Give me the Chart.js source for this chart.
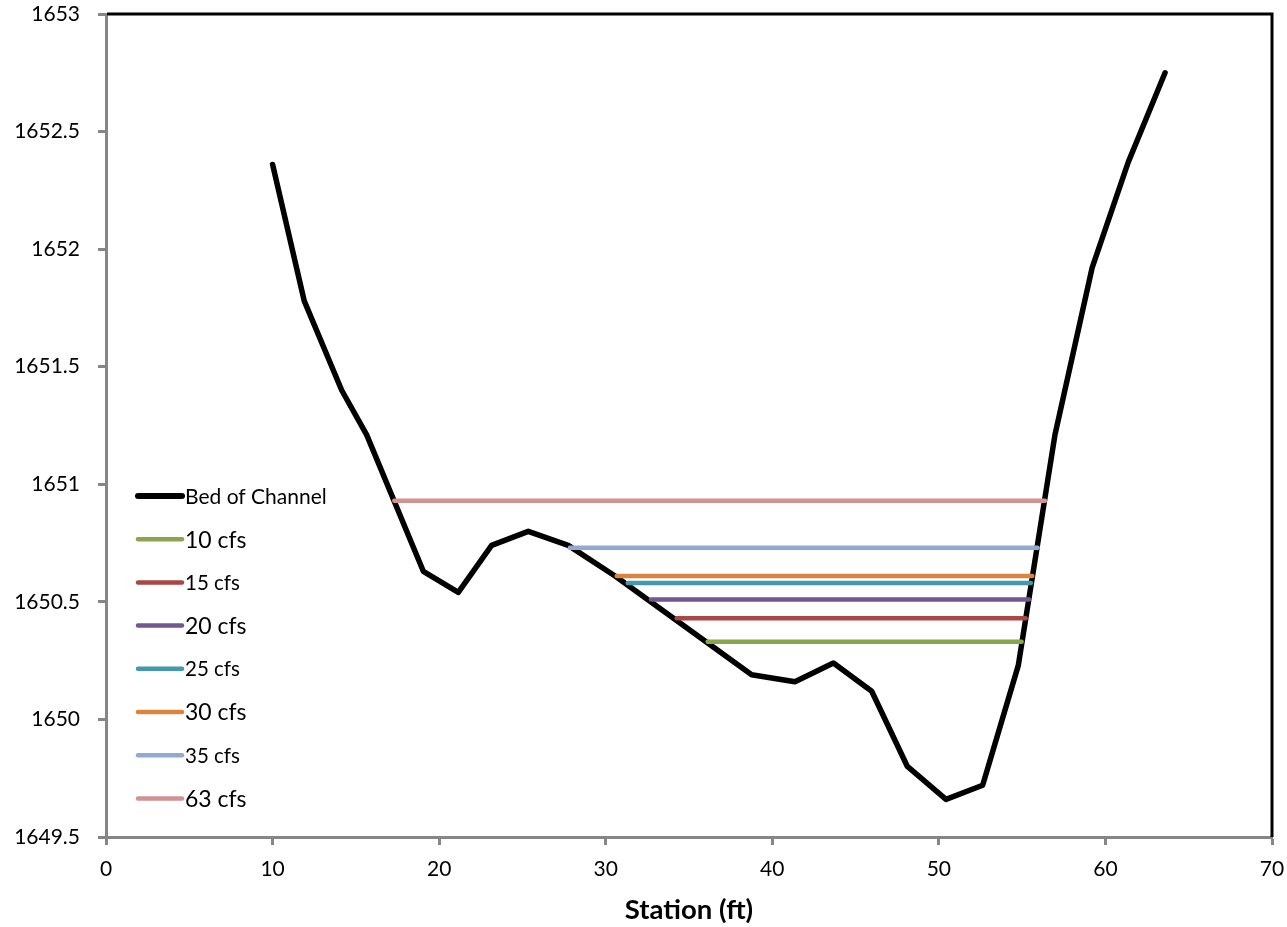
<!DOCTYPE html>
<html><head><meta charset="utf-8">
<script src="https://cdn.jsdelivr.net/npm/chart.js@4/dist/chart.umd.min.js"></script>
<style>html,body{margin:0;padding:0;background:#fff;}#wrap{width:1287px;height:927px;}</style>
</head><body><div id="wrap"><canvas id="c" width="1287" height="927"></canvas></div>
<script>
// ---- data ----
const station = [10.0, 11.9, 14.15, 15.65, 19.05, 21.15, 23.15, 25.35, 27.75, 30.56, 38.76, 41.36, 43.67, 45.97, 48.11, 50.43, 52.63, 54.77, 56.97, 59.2, 61.37, 63.58];
const bedElevation = [1652.36, 1651.78, 1651.40, 1651.21, 1650.63, 1650.54, 1650.74, 1650.80, 1650.74, 1650.61, 1650.19, 1650.16, 1650.24, 1650.12, 1649.80, 1649.66, 1649.72, 1650.23, 1651.21, 1651.92, 1652.37, 1652.75];
const bedLabel = 'Bed of Channel';
const flowLabels = ['10 cfs', '15 cfs', '20 cfs', '25 cfs', '30 cfs', '35 cfs', '63 cfs'];
const wsElevation = [1650.33, 1650.43, 1650.51, 1650.58, 1650.61, 1650.73, 1650.93];
const wsLeftStation = [36.12, 34.26, 32.72, 31.32, 30.66, 27.85, 17.31];
const wsRightStation = [54.97, 55.21, 55.41, 55.53, 55.61, 55.93, 56.37];
const xTicks = [0, 10, 20, 30, 40, 50, 60, 70];
const yTicks = [1649.5, 1650, 1650.5, 1651, 1651.5, 1652, 1652.5, 1653];
const xTitle = 'Station (ft)';

// ---- styles ----
const flowColors = ['#89A54E', '#AA4643', '#71588F', '#4198AF', '#DB843D', '#93A9CF', '#D19392'];
const FONT = 'Lato, "Open Sans", sans-serif';
const AXIS_GRAY = '#868686';

const datasets = [{
  label: bedLabel,
  data: station.map((s, i) => ({x: s, y: bedElevation[i]})),
  borderColor: '#000', backgroundColor: '#000', borderWidth: 5.5,
  pointRadius: 0, tension: 0, borderJoinStyle: 'round', borderCapStyle: 'round', order: 10
}];
flowLabels.forEach((lab, i) => {
  datasets.push({
    label: lab,
    data: [{x: wsLeftStation[i], y: wsElevation[i]}, {x: wsRightStation[i], y: wsElevation[i]}],
    borderColor: flowColors[i], backgroundColor: flowColors[i], borderWidth: 4.5,
    pointRadius: 0, tension: 0, borderCapStyle: 'round', order: 0
  });
});

const legendSizes = [21, 23, 20.5, 23, 20.5, 23, 20.5, 23];
const framePlugin = {
  id: 'frame',
  afterDraw(chart) {
    const {ctx, chartArea: a} = chart;
    ctx.save();
    ctx.strokeStyle = '#000';
    ctx.lineWidth = 3;
    ctx.beginPath();
    ctx.moveTo(a.left + 1, a.top);
    ctx.lineTo(a.right, a.top);
    ctx.lineTo(a.right, a.bottom);
    ctx.stroke();
    // legend inside plot area
    const x0 = 138, x1 = 182, y0 = 496, dy = 43.2;
    chart.data.datasets.forEach((ds, i) => {
      const y = y0 + i * dy;
      ctx.beginPath();
      ctx.lineCap = 'round';
      ctx.strokeStyle = ds.borderColor;
      ctx.lineWidth = i === 0 ? 6 : 4.5;
      ctx.moveTo(x0, y); ctx.lineTo(x1, y);
      ctx.stroke();
      ctx.fillStyle = '#000';
      ctx.font = legendSizes[i] + 'px ' + FONT;
      ctx.textBaseline = 'middle';
      ctx.textAlign = 'left';
      ctx.fillText(ds.label, x1 + 3, y + 1);
    });
    ctx.restore();
  }
};

function zeroPad(s) { s.paddingTop = 0; s.paddingBottom = 0; s.paddingLeft = 0; s.paddingRight = 0; }

new Chart(document.getElementById('c'), {
  type: 'line',
  data: {datasets},
  plugins: [framePlugin],
  options: {
    responsive: false,
    animation: false,
    devicePixelRatio: 1,
    layout: {padding: {top: 14, right: 15, left: 0, bottom: 0}},
    plugins: {legend: {display: false}, tooltip: {enabled: false}},
    scales: {
      x: {
        type: 'linear', position: 'bottom', min: 0, max: 70,
        afterBuildTicks: s => { s.ticks = xTicks.map(v => ({value: v})); },
        afterFit: s => { s.height = 90; zeroPad(s); },
        grid: {display: true, drawOnChartArea: false, drawTicks: true, tickLength: 8, tickWidth: 3, tickColor: AXIS_GRAY},
        border: {display: true, color: AXIS_GRAY, width: 3},
        ticks: {font: {family: FONT, size: 21}, color: '#000', padding: 12, maxRotation: 0, autoSkip: false, callback: v => String(v)},
        title: {display: true, text: xTitle, font: {family: FONT, size: 27.5, weight: 'bold'}, color: '#000', padding: {top: 0, bottom: 0}}
      },
      y: {
        type: 'linear', min: 1649.5, max: 1653,
        afterBuildTicks: s => { s.ticks = yTicks.map(v => ({value: v})); },
        afterFit: s => { s.width = 106; zeroPad(s); },
        grid: {display: true, drawOnChartArea: false, drawTicks: true, tickLength: 8, tickWidth: 3, tickColor: AXIS_GRAY},
        border: {display: true, color: AXIS_GRAY, width: 3},
        ticks: {font: {family: FONT, size: 21}, color: '#000', padding: 18, autoSkip: false, callback: v => String(v)}
      }
    }
  }
});
</script></body></html>
